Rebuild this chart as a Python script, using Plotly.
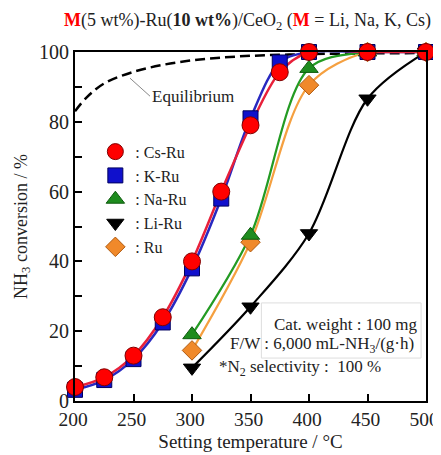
import plotly.graph_objects as go

# ---- data ----
temp_full = [200, 225, 250, 275, 300, 325, 350, 375, 400, 450, 500]
cs_ru = [4.0, 6.8, 13.0, 24.0, 40.0, 60.0, 79.0, 94.2, 100, 100, 100]
k_ru = [3.2, 6.0, 12.0, 22.5, 38.0, 58.0, 81.0, 97.0, 100, 100, 100]

temp_part = [300, 350, 400, 450, 500]
na_ru = [19.0, 47.5, 95.3, 100, 100]
li_ru = [9.5, 27.0, 48.0, 86.6, 100]
ru = [14.5, 45.5, 90.5, 100, 100]

eq_temp = [200, 210, 225, 250, 275, 300, 325, 350, 375, 400, 450, 500]
eq_conv = [83.0, 87.0, 91.0, 94.3, 96.3, 97.6, 98.4, 98.9, 99.2, 99.4, 99.6, 99.7]

x_ticks = [200, 250, 300, 350, 400, 450, 500]
y_ticks = [0, 20, 40, 60, 80, 100]

FONT = "Liberation Serif"
TXT = "#222222"

series = [
    # name, x, y, symbol, fill, edge, linecolor, linewidth, size, rank
    (": Ru", temp_part, ru, "diamond", "#F0892A", "#B05A10", "#F5A040", 2.2, 15, 5),
    (": Li-Ru", temp_part, li_ru, "triangle-down", "#000000", "#000000", "#000000", 2.2, 15, 4),
    (": Na-Ru", temp_part, na_ru, "triangle-up", "#1E8C1E", "#0E5A0E", "#239B23", 2.2, 16, 3),
    (": K-Ru", temp_full, k_ru, "square", "#1010CC", "#000060", "#2828C0", 2.5, 15, 2),
    (": Cs-Ru", temp_full, cs_ru, "circle", "#FF0000", "#800000", "#E8203A", 2.5, 17, 1),
]

fig = go.Figure()

fig.add_trace(go.Scatter(
    x=eq_temp, y=eq_conv, mode="lines", showlegend=False,
    line=dict(color="black", width=2.5, dash="10px,5px", shape="spline", smoothing=1.0),
    hoverinfo="skip"))

for name, xs, ys, sym, fill, edge, lc, lw, sz, rank in series:
    fig.add_trace(go.Scatter(
        x=xs, y=ys, mode="lines", showlegend=False,
        line=dict(color=lc, width=lw, shape="spline", smoothing=0.9)))

for name, xs, ys, sym, fill, edge, lc, lw, sz, rank in series:
    fig.add_trace(go.Scatter(
        x=xs, y=ys, mode="markers", name=name, legendrank=rank,
        marker=dict(symbol=sym, size=sz, color=fill, line=dict(color=edge, width=1)),
        cliponaxis=False))

title_txt = ("<span style='color:#FF0000'><b>M</b></span>(5 wt%)-Ru(<b>10 wt%</b>)/CeO<sub>2</sub> "
             "(<span style='color:#FF0000'><b>M</b></span> = Li, Na, K, Cs)")

# page body has an 8px margin, so the figure is sized 8px smaller than the window
fig.update_layout(
    width=433, height=447,
    margin=dict(l=67, r=15, t=44, b=54, autoexpand=False),
    paper_bgcolor="white", plot_bgcolor="white",
    font=dict(family=FONT, size=18, color=TXT),
    title=dict(text=title_txt, x=0.553, xanchor="center", y=0.973, yanchor="middle",
               font=dict(family=FONT, size=18, color=TXT)),
    showlegend=True,
    legend=dict(x=0.058, y=0.763, xanchor="left", yanchor="top",
                bgcolor="rgba(0,0,0,0)", font=dict(family=FONT, size=16, color=TXT),
                tracegroupgap=0, itemwidth=30),
    xaxis=dict(range=[200, 500], tickvals=x_ticks,
               ticks="inside", ticklen=7, tickwidth=1.5, ticklabelshift=-2,
               tickcolor="black", showline=True, linecolor="black", linewidth=2, mirror=True,
               showgrid=False, zeroline=False, automargin=False, ticklabeloverflow="allow",
               tickfont=dict(family=FONT, size=19.5, color=TXT),
               title=dict(text="Setting temperature / °C", standoff=5,
                          font=dict(family=FONT, size=19, color=TXT))),
    yaxis=dict(range=[0, 100], tickvals=y_ticks, ticks="inside", ticklen=7, tickwidth=1.5,
               tickcolor="black", showline=True, linecolor="black", linewidth=2, mirror=True,
               showgrid=False, zeroline=False, automargin=False, ticklabeloverflow="allow",
               minor=dict(dtick=10, ticks="inside", ticklen=7, tickwidth=1.5, tickcolor="black"),
               tickfont=dict(family=FONT, size=20, color=TXT),
               title=dict(text="NH<sub>3</sub> conversion / %", standoff=7,
                          font=dict(family=FONT, size=18, color=TXT))),
)

fig.add_annotation(x=247, y=92.5, xref="x", yref="y", text="Equilibrium", showarrow=True,
                   arrowhead=0, arrowwidth=1, arrowcolor="#888888", ax=20, ay=18,
                   xanchor="left", font=dict(family=FONT, size=17, color=TXT))

fig.add_shape(type="rect", xref="paper", yref="paper", x0=0.531, x1=0.986, y0=0.123, y1=0.281,
              line=dict(color="#dddddd", width=1), fillcolor="rgba(0,0,0,0)", layer="below")

fig.add_annotation(x=0.5625, y=0.2206, xref="paper", yref="paper", text="Cat. weight : 100 mg",
                   showarrow=False, xanchor="left", yanchor="middle",
                   font=dict(family=FONT, size=17, color=TXT))
fig.add_annotation(x=0.4347, y=0.160, xref="paper", yref="paper",
                   text="F/W : 6,000 mL-NH<sub>3</sub>/(g·h)",
                   showarrow=False, xanchor="left", yanchor="middle",
                   font=dict(family=FONT, size=17, color=TXT))
fig.add_annotation(x=0.405, y=0.0946, xref="paper", yref="paper",
                   text="*N<sub>2</sub> selectivity :  100 %",
                   showarrow=False, xanchor="left", yanchor="middle",
                   font=dict(family=FONT, size=17, color=TXT))

fig.write_html("out.html")
